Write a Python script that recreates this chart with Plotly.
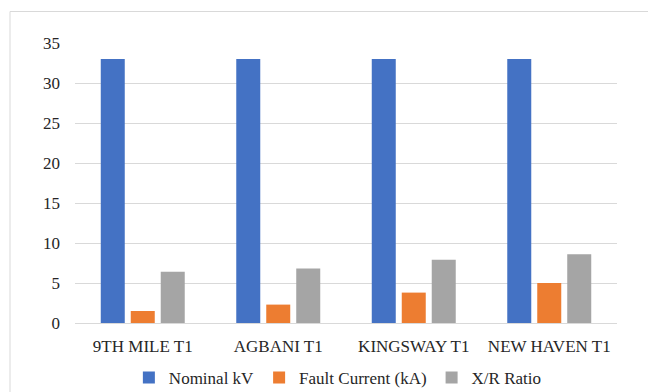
import plotly.graph_objects as go

transformers = ["9TH MILE T1", "AGBANI T1", "KINGSWAY T1", "NEW HAVEN T1"]
nominal_kv = [33, 33, 33, 33]
fault_current_ka = [1.5, 2.3, 3.8, 5.0]
xr_ratio = [6.4, 6.8, 7.9, 8.6]

series = [
    ("Nominal kV", nominal_kv, "#4472C4"),
    ("Fault Current (kA)", fault_current_ka, "#ED7D31"),
    ("X/R Ratio", xr_ratio, "#A5A5A5"),
]

FONT = "Liberation Serif"

fig = go.Figure()
for name, vals, color in series:
    fig.add_trace(go.Bar(x=transformers, y=vals, name=name,
                         marker=dict(color=color, line=dict(width=0))))

fig.update_layout(
    width=648, height=392,
    margin=dict(l=75, r=31, t=43, b=69, autoexpand=False),
    paper_bgcolor="white", plot_bgcolor="white",
    barmode="group", bargap=0.336, bargroupgap=0.2,
    font=dict(family=FONT, size=17, color="#262626"),
    showlegend=True,
    legend=dict(orientation="h", x=0.485, xanchor="center",
                yref="container", y=0.036, yanchor="middle",
                font=dict(family=FONT, size=17, color="#262626"),
                itemwidth=30, traceorder="normal"),
    xaxis=dict(showgrid=False, showline=True, linecolor="#d9d9d9", linewidth=1,
               ticks="", ticklabelstandoff=8,
               tickfont=dict(family=FONT, size=17, color="#262626")),
    yaxis=dict(range=[0, 35], dtick=5, showgrid=True, gridcolor="#d9d9d9", gridwidth=1,
               zeroline=False, showline=False, ticks="", ticklabelstandoff=14,
               tickfont=dict(family=FONT, size=17, color="#262626")),
    shapes=[dict(type="rect", xref="paper", yref="paper",
                 x0=(10 - 75) / 542, x1=1.2, y0=-0.4, y1=(323 - 11.5) / 280,
                 line=dict(color="#d9d9d9", width=1), fillcolor="rgba(0,0,0,0)",
                 layer="below")],
)

fig.write_html("out.html")
